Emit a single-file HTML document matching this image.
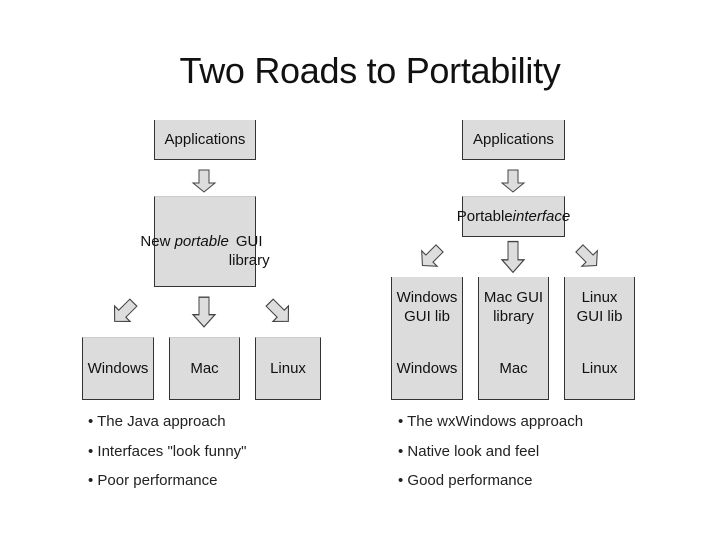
<!DOCTYPE html>
<html><head><meta charset="utf-8"><style>
body{margin:0;width:720px;height:540px;background:#fff;position:relative;overflow:hidden;font-family:"Liberation Sans",sans-serif;color:#111}
.t{position:absolute;left:0;width:740px;top:50px;text-align:center;font-size:36px;letter-spacing:-0.3px}
.b{position:absolute;background:#dcdcdc;border:1.5px solid #333;border-top:none;box-sizing:border-box;display:flex;align-items:center;justify-content:center;text-align:center;font-size:15px;line-height:19px}
.l{position:absolute;font-size:15px;color:#222}
svg{position:absolute;left:0;top:0}
</style></head><body>
<div class="t">Two Roads to Portability</div>
<div class="b" style="left:154px;top:120px;width:102px;height:40px">Applications</div>
<div class="b" style="left:154px;top:196px;width:102px;height:91px;border-top:1.5px solid #ccc">New <i>&nbsp;portable</i><br>GUI library</div>
<div class="b" style="left:82px;top:337px;width:72px;height:63px;border-top:1.5px solid #ccc">Windows</div>
<div class="b" style="left:169px;top:337px;width:71px;height:63px;border-top:1.5px solid #ccc">Mac</div>
<div class="b" style="left:255px;top:337px;width:66px;height:63px;border-top:1.5px solid #ccc">Linux</div>

<div class="b" style="left:462px;top:120px;width:103px;height:40px">Applications</div>
<div class="b" style="left:462px;top:196px;width:103px;height:41px;line-height:20px;border-top:1.5px solid #ccc">Portable<br><i>interface</i></div>
<div class="b" style="left:391px;top:277px;width:72px;height:61px">Windows<br>GUI lib</div>
<div class="b" style="left:478px;top:277px;width:71px;height:61px">Mac GUI<br>library</div>
<div class="b" style="left:564px;top:277px;width:71px;height:61px">Linux<br>GUI lib</div>
<div class="b" style="left:391px;top:337px;width:72px;height:63px">Windows</div>
<div class="b" style="left:478px;top:337px;width:71px;height:63px">Mac</div>
<div class="b" style="left:564px;top:337px;width:71px;height:63px">Linux</div>

<svg width="720" height="540">
<defs><path id="a" d="M-5,-11 L5,-11 L5,2 L11,2 L0,11 L-11,2 L-5,2 Z" fill="#ddd" stroke="#444" stroke-width="1"/></defs>
<use href="#a" transform="translate(204,181)"/>
<use href="#a" transform="translate(124,312) rotate(45) scale(1,1.2)"/>
<use href="#a" transform="translate(204,312) scale(1,1.35)"/>
<use href="#a" transform="translate(279,312) rotate(-45) scale(1,1.2)"/>
<use href="#a" transform="translate(513,181)"/>
<use href="#a" transform="translate(431,257) rotate(45) scale(1,1.1)"/>
<use href="#a" transform="translate(513,257) scale(1,1.4)"/>
<use href="#a" transform="translate(588,257) rotate(-45) scale(1,1.1)"/>
</svg>

<div class="l" style="left:88px;top:413px">• The Java approach</div>
<div class="l" style="left:88px;top:443px">• Interfaces "look funny"</div>
<div class="l" style="left:88px;top:472px">• Poor performance</div>
<div class="l" style="left:398px;top:413px">• The wxWindows approach</div>
<div class="l" style="left:398px;top:443px">• Native look and feel</div>
<div class="l" style="left:398px;top:472px">• Good performance</div>
</body></html>
